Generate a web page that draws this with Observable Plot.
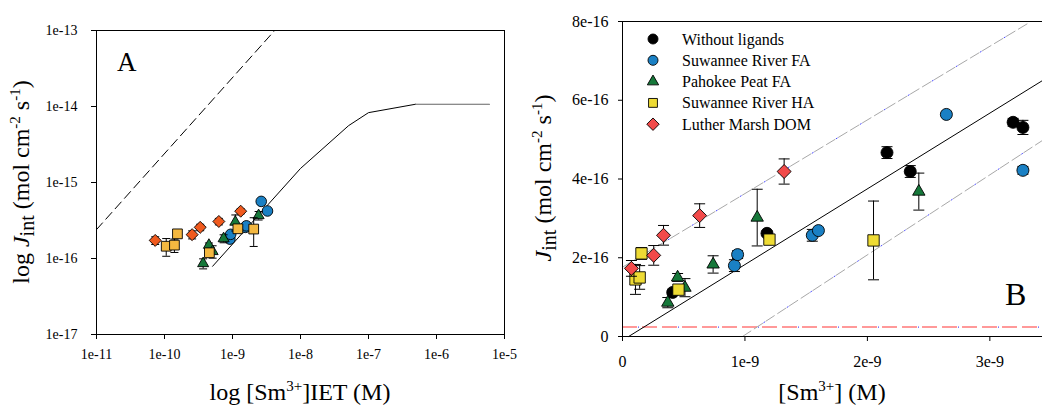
<!DOCTYPE html>
<html><head><meta charset="utf-8">
<script src="https://cdn.jsdelivr.net/npm/d3@7"></script>
<script src="https://cdn.jsdelivr.net/npm/@observablehq/plot@0.6"></script>
<style>
body{margin:0;background:#fff;}
#wrap{position:relative;width:1042px;height:407px;overflow:hidden;font-family:"Liberation Serif","Times New Roman",serif;}
#a{position:absolute;left:0;top:0;}
#b{position:absolute;left:520px;top:0;}
svg{overflow:visible}
</style></head><body><div id="wrap"><div id="a"></div><div id="b"></div></div>
<script>
// ---------- data ----------
const seriesNames = ["Without ligands", "Suwannee River FA", "Pahokee Peat FA", "Suwannee River HA", "Luther Marsh DOM"];

const noLigandsC   = [0.41e-9, 1.18e-9, 2.16e-9, 2.35e-9, 3.19e-9, 3.27e-9];
const noLigandsJ   = [1.12e-16, 2.62e-16, 4.67e-16, 4.19e-16, 5.44e-16, 5.31e-16];
const noLigandsErr = [0.05e-16, 0.06e-16, 0.15e-16, 0.15e-16, 0.10e-16, 0.18e-16];

const srfaC   = [0.914e-9, 0.94e-9, 1.55e-9, 1.60e-9, 2.645e-9, 3.27e-9];
const srfaJ   = [1.80e-16, 2.08e-16, 2.57e-16, 2.69e-16, 5.64e-16, 4.22e-16];
const srfaErr = [0.15e-16, 0.10e-16, 0.15e-16, 0.05e-16, 0.05e-16, 0.10e-16];

const ppfaC   = [0.37e-9, 0.45e-9, 0.51e-9, 0.74e-9, 1.10e-9, 2.42e-9];
const ppfaJ   = [0.86e-16, 1.50e-16, 1.24e-16, 1.83e-16, 3.02e-16, 3.68e-16];
const ppfaErr = [0.13e-16, 0.10e-16, 0.23e-16, 0.22e-16, 0.72e-16, 0.47e-16];

const srhaC   = [0.106e-9, 0.14e-9, 0.155e-9, 0.457e-9, 1.20e-9, 2.05e-9];
const srhaJ   = [1.45e-16, 1.50e-16, 2.11e-16, 1.19e-16, 2.46e-16, 2.44e-16];
const srhaErr = [0.38e-16, 0.30e-16, 0.15e-16, 0.08e-16, 0.10e-16, 1.00e-16];

const lmC   = [0.073e-9, 0.255e-9, 0.335e-9, 0.63e-9, 1.32e-9];
const lmJ   = [1.73e-16, 2.06e-16, 2.57e-16, 3.07e-16, 4.19e-16];
const lmErr = [0.20e-16, 0.25e-16, 0.25e-16, 0.30e-16, 0.32e-16];

// panel A model lines
const dashedAC = [1e-11, 4.17e-9];
const dashedAJ = [2.4e-16, 1e-13];
const solidAC = [5.1e-10, 1e-8, 5.1e-8, 1e-7, 4.9e-7];
const solidAJ = [7.9e-17, 1.53e-15, 5.6e-15, 8.3e-15, 1.07e-14];
const plateauAC = [4.9e-7, 6e-6];
const plateauAJ = [1.07e-14, 1.07e-14];

// panel B model lines
const solidBC = [0.05e-9, 3.43e-9];
const solidBJ = [0, 6.5e-16];
const upperBC = [0, 3.31e-9];
const upperBJ = [1.76e-16, 7.95e-16];
const lowerBC = [0.98e-9, 3.43e-9];
const lowerBJ = [0, 4.98e-16];
const blankJ = 2.4e-17;

// ticks
const xTicksA = [1e-11, 1e-10, 1e-9, 1e-8, 1e-7, 1e-6, 1e-5];
const yTicksA = [1e-17, 1e-16, 1e-15, 1e-14, 1e-13];
const xTicksB = [0, 1e-9, 2e-9, 3e-9];
const yTicksB = [0, 2e-16, 4e-16, 6e-16, 8e-16];

// ---------- helpers ----------
const rows = (c, j, e) => c.map((x, i) => ({c: x, j: j[i], e: e[i]}));
const pts = (c, j) => c.map((x, i) => ({c: x, j: j[i]}));
const cap = {draw(ctx, size){ const r = Math.sqrt(size / Math.PI); ctx.moveTo(-r, 0); ctx.lineTo(r, 0); }};

const seriesData = [
  rows(noLigandsC, noLigandsJ, noLigandsErr),
  rows(srfaC, srfaJ, srfaErr),
  rows(ppfaC, ppfaJ, ppfaErr),
  rows(srhaC, srhaJ, srhaErr),
  rows(lmC, lmJ, lmErr)
];
const stylesB = [
  {fill: "#000000", symbol: "circle", r: 6},
  {fill: "#1a80c4", symbol: "circle", r: 6},
  {fill: "#16783a", symbol: "triangle", r: 4.6},
  {fill: "#eedb34", symbol: "square", r: 6.4},
  {fill: "#f24a4a", symbol: "diamond2", r: 6.3}
];
const stylesA = [
  null,
  {fill: "#1a80c4", symbol: "circle", r: 5.3},
  {fill: "#16783a", symbol: "triangle", r: 4.1},
  {fill: "#f4b840", symbol: "square", r: 5.5},
  {fill: "#f05a1e", symbol: "diamond2", r: 5.4}
];

function seriesMarks(data, st, capR) {
  const withErr = data.filter(d => d.e > 0);
  return [
    Plot.ruleX(withErr, {x: "c", y1: d => d.j - d.e, y2: d => d.j + d.e, stroke: "#000", strokeWidth: 1}),
    Plot.dot(withErr, {x: "c", y: d => d.j + d.e, symbol: cap, r: capR, stroke: "#000", strokeWidth: 1, fill: "none"}),
    Plot.dot(withErr, {x: "c", y: d => d.j - d.e, symbol: cap, r: capR, stroke: "#000", strokeWidth: 1, fill: "none"}),
    Plot.dot(data, {x: "c", y: "j", symbol: st.symbol, r: st.r, fill: st.fill, stroke: "#000", strokeWidth: 0.9})
  ];
}

const fmtLog = d => "1e" + Math.round(Math.log10(d));
const fmtLin = d => d === 0 ? "0" : d3.format(".0e")(d);

// ---------- panel A ----------
const marksA = [
  Plot.frame({stroke: "#000", strokeWidth: 1}),
  Plot.line(pts(dashedAC, dashedAJ), {x: "c", y: "j", stroke: "#000", strokeWidth: 1, strokeDasharray: "9 5"}),
  Plot.line(pts(solidAC, solidAJ), {x: "c", y: "j", stroke: "#000", strokeWidth: 1}),
  Plot.line(pts(plateauAC, plateauAJ), {x: "c", y: "j", stroke: "#666", strokeWidth: 1.2}),
];
for (let i = 1; i < seriesData.length; i++) marksA.push(...seriesMarks(seriesData[i], stylesA[i], 4));
marksA.push(
  Plot.axisX({ticks: xTicksA, tickFormat: fmtLog, tickSize: 5, tickPadding: 10, fontSize: 14, label: null}),
  Plot.axisY({ticks: yTicksA, tickFormat: fmtLog, tickSize: 5, tickPadding: 14, fontSize: 14, label: null})
);
const plotA = Plot.plot({
  width: 520, height: 407,
  marginLeft: 96, marginRight: 16, marginTop: 30, marginBottom: 73,
  x: {type: "log", domain: [1e-11, 1e-5]},
  y: {type: "log", domain: [1e-17, 1e-13]},
  style: {fontFamily: "Liberation Serif", fontSize: "14px", color: "#000", background: "transparent", overflow: "visible"},
  marks: marksA
});
document.getElementById("a").appendChild(plotA);

// ---------- panel B ----------
const marksB = [
  Plot.ruleY([blankJ], {stroke: "#ff7878", strokeWidth: 1.6, strokeDasharray: "15 5"}),
  Plot.ruleY([blankJ], {stroke: "#5050ff", strokeWidth: 1.2, strokeDasharray: "1 39", strokeDashoffset: -16}),
  Plot.line(pts(upperBC, upperBJ), {x: "c", y: "j", stroke: "#a8a8a8", strokeWidth: 1, strokeDasharray: "10 4"}),
  Plot.line(pts(upperBC, upperBJ), {x: "c", y: "j", stroke: "#4848ff", strokeWidth: 1, strokeDasharray: "1 27", strokeDashoffset: 2.5}),
  Plot.line(pts(lowerBC, lowerBJ), {x: "c", y: "j", stroke: "#a8a8a8", strokeWidth: 1, strokeDasharray: "10 4"}),
  Plot.line(pts(lowerBC, lowerBJ), {x: "c", y: "j", stroke: "#4848ff", strokeWidth: 1, strokeDasharray: "1 27", strokeDashoffset: 2.5}),
  Plot.line(pts(solidBC, solidBJ), {x: "c", y: "j", stroke: "#000", strokeWidth: 1}),
  Plot.ruleY([0], {stroke: "#000"}),
  Plot.ruleY([8e-16], {stroke: "#000"}),
  Plot.ruleX([0], {stroke: "#000"})
];
for (let i = 0; i < seriesData.length; i++) marksB.push(...seriesMarks(seriesData[i], stylesB[i], 5.5));
marksB.push(
  Plot.axisX({ticks: xTicksB, tickFormat: fmtLin, tickSize: 5, tickPadding: 14, fontSize: 16, label: null}),
  Plot.axisY({ticks: yTicksB, tickFormat: fmtLin, tickSize: 4, tickPadding: 10, fontSize: 16, label: null})
);
const plotB = Plot.plot({
  width: 522, height: 407,
  marginLeft: 102, marginRight: 0, marginTop: 21, marginBottom: 71,
  x: {domain: [0, 3.43e-9]},
  y: {domain: [0, 8e-16]},
  style: {fontFamily: "Liberation Serif", fontSize: "16px", color: "#000", background: "transparent", overflow: "visible"},
  marks: marksB
});
document.getElementById("b").appendChild(plotB);

// ---------- text: axis titles, panel letters, legend ----------
function addText(svg, x, y, rotate, parts, size) {
  const t = d3.select(svg).append("text")
    .attr("transform", `translate(${x},${y})` + (rotate ? " rotate(-90)" : ""))
    .attr("text-anchor", "middle")
    .attr("font-family", "Liberation Serif, serif")
    .attr("font-size", size)
    .attr("fill", "#000");
  let shift = 0;
  for (const p of parts) {
    const s = t.append("tspan").text(p.t);
    const target = p.sup ? -9 : p.sub ? 5 : 0;
    if (target !== shift) { s.attr("dy", target - shift); shift = target; }
    if (p.sup) s.attr("font-size", 15);
    if (p.sub) s.attr("font-size", 20);
    if (p.it) s.attr("font-style", "italic");
  }
  return t;
}
const svgA = plotA.tagName === "svg" ? plotA : plotA.querySelector("svg");
const svgB = plotB.tagName === "svg" ? plotB : plotB.querySelector("svg");

addText(svgA, 29, 182, true, [
  {t: "log "}, {t: "J", it: true}, {t: "int", sub: true}, {t: " (mol cm"}, {t: "-2", sup: true}, {t: " s"}, {t: "-1", sup: true}, {t: ")"}
], 24);
addText(svgA, 300, 400, false, [
  {t: "log [Sm"}, {t: "3+", sup: true}, {t: "]IET (M)"}
], 24);
addText(svgB, 31, 178, true, [
  {t: "J", it: true}, {t: "int", sub: true}, {t: " (mol cm"}, {t: "-2", sup: true}, {t: " s"}, {t: "-1", sup: true}, {t: ")"}
], 24);
addText(svgB, 312, 400, false, [
  {t: "[Sm"}, {t: "3+", sup: true}, {t: "] (M)"}
], 24);

d3.select(svgA).append("text").attr("x", 117).attr("y", 71).attr("text-anchor", "start")
  .attr("font-family", "Liberation Serif, serif").attr("font-size", 27).text("A");
d3.select(svgB).append("text").attr("x", 485).attr("y", 305).attr("text-anchor", "start")
  .attr("font-family", "Liberation Serif, serif").attr("font-size", 32).text("B");

// legend
const symMap = {circle: d3.symbolCircle, triangle: d3.symbolTriangle, square: d3.symbolSquare, diamond2: d3.symbolDiamond2};
const legendSize = [5, 5, 4.2, 5, 5.6];
const lg = d3.select(svgB).append("g").attr("font-family", "Liberation Serif, serif").attr("font-size", 16).attr("text-anchor", "start");
seriesNames.forEach((name, i) => {
  const y = 39 + i * 21.3;
  const r = legendSize[i];
  lg.append("path")
    .attr("transform", `translate(133,${y})`)
    .attr("d", d3.symbol(symMap[stylesB[i].symbol], Math.PI * r * r)())
    .attr("fill", stylesB[i].fill).attr("stroke", "#000").attr("stroke-width", 0.9);
  lg.append("text").attr("x", 162).attr("y", y + 5.5).attr("text-anchor", "start").text(name);
});
</script></body></html>
